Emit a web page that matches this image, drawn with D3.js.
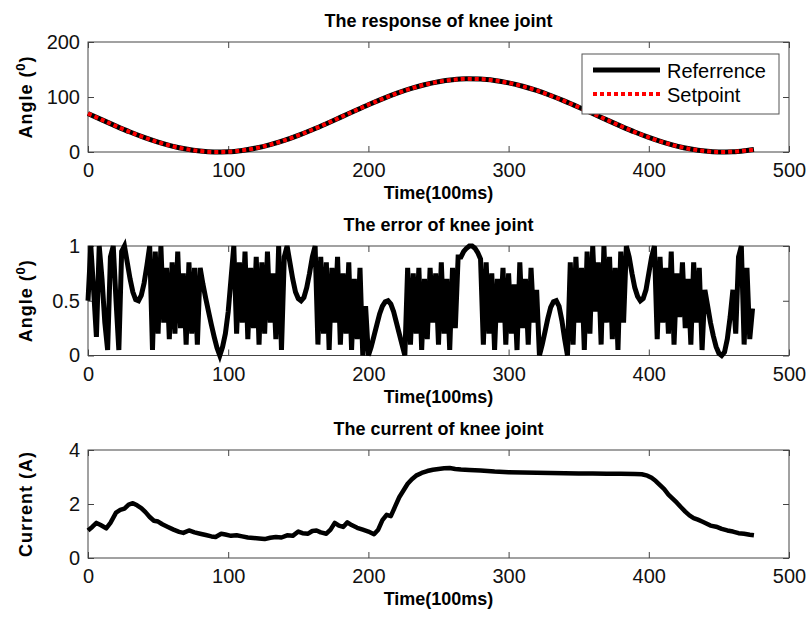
<!DOCTYPE html>
<html>
<head>
<meta charset="utf-8">
<script src="https://cdn.jsdelivr.net/npm/d3@7"></script>
<style>
  body { margin: 0; background: #fff; }
  svg { display: block; }
</style>
</head>
<body>
<div id="chart"></div>
<script>
// knee joint data

var timeTicks = [0, 100, 200, 300, 400, 500];
var angleTicks = [0, 100, 200];
var errorTicks = [0, 0.5, 1];
var currentTicks = [0, 2, 4];

// response: reference and setpoint (deg)
var refTime = [0, 10, 20, 30, 40, 50, 60, 70, 80, 90, 100, 110, 120, 130, 140, 150, 160, 170, 180, 190,
  200, 210, 220, 230, 240, 250, 260, 270, 280, 290, 300, 310, 320, 330, 340, 350, 360, 370, 380, 390,
  400, 410, 420, 430, 440, 450, 460, 470, 475];
var refAngle = [70, 58.4, 47.1, 36.3, 26.5, 17.9, 10.7, 5.3, 1.7, 0.1, 0.5, 2.9, 7.2, 13.4, 21.1, 30.3, 40.5, 51.5, 63, 74.6,
  86, 96.7, 106.5, 115.1, 122.3, 127.7, 131.3, 133, 132.6, 130.1, 125.7, 119.6, 111.9, 102.7, 92.5, 81.5, 70, 58.4, 47.1, 36.3,
  26.5, 17.9, 10.7, 5.3, 1.7, 0.1, 0.5, 2.9, 4.5];
var setAngle = [70, 58.4, 47.1, 36.3, 26.5, 17.9, 10.7, 5.3, 1.7, 0.1, 0.5, 2.9, 7.2, 13.4, 21.1, 30.3, 40.5, 51.5, 63, 74.6,
  86, 96.7, 106.5, 115.1, 122.3, 127.7, 131.3, 133, 132.6, 130.1, 125.7, 119.6, 111.9, 102.7, 92.5, 81.5, 70, 58.4, 47.1, 36.3,
  26.5, 17.9, 10.7, 5.3, 1.7, 0.1, 0.5, 2.9, 4.5];

// error, one sample every 2 time units starting at 0
var errStep = 2;
var errValue = [
  0.5, 1.0, 0.6, 0.17, 1.0, 0.7, 0.3, 0.05, 0.9, 1.0, 0.5, 0.05, 0.95,           // 0-24
  1.0, 0.85, 0.7, 0.58, 0.51, 0.5, 0.55, 0.66, 0.82, 1.0,                         // 26-44
  0.05, 0.95, 0.2, 1.0, 0.3, 0.8, 0.15, 0.85, 0.2, 0.95, 0.25, 0.75, 0.1, 0.85, 0.2, 0.8, 0.1, // 46-78
  0.8, 0.65, 0.52, 0.4, 0.28, 0.17, 0.07, 0.0, 0.08, 0.2, 0.4, 0.7, 1.0,          // 80-104
  0.2, 0.85, 0.3, 0.95, 0.15, 0.8, 0.25, 0.9, 0.1, 0.85, 0.2, 0.95, 0.3, 0.75, 0.15, 1.0, 0.05, 0.9, // 106-140
  1.0, 0.85, 0.7, 0.58, 0.52, 0.5, 0.53, 0.62, 0.75, 0.9, 1.0,                    // 142-162
  0.1, 0.9, 0.2, 0.85, 0.05, 0.8, 0.3, 0.9, 0.1, 0.75, 0.2, 0.85, 0.05, 0.7, 0.15, 0.8, 0.0, 0.45, 0.0, // 164-200
  0.08, 0.18, 0.28, 0.38, 0.45, 0.49, 0.5, 0.47, 0.4, 0.3, 0.2, 0.1, 0.0,        // 202-226
  0.8, 0.1, 0.75, 0.2, 0.8, 0.05, 0.7, 0.15, 0.8, 0.3, 0.75, 0.1, 0.85, 0.2, 0.7, 0.05, 0.8, 0.25, 0.9, // 228-264
  0.9, 0.95, 0.98, 1.0, 1.0, 0.98, 0.94, 0.88, 0.1,                               // 266-282
  0.85, 0.2, 0.75, 0.05, 0.7, 0.3, 0.8, 0.1, 0.75, 0.2, 0.65, 0.05, 0.85, 0.25, 0.7, 0.1, 0.8, 0.3, 0.6, 0.0, // 284-322
  0.1, 0.22, 0.34, 0.44, 0.49, 0.5, 0.45, 0.32, 0.15, 0.0,                        // 324-342
  0.85, 0.1, 0.9, 0.3, 0.8, 0.05, 0.95, 0.2, 1.0, 0.4, 0.85, 0.1, 1.0, 0.3, 0.9, 0.15, 0.8, 0.05, 0.95, 0.3, 1.0, // 344-384
  0.9, 0.75, 0.62, 0.54, 0.5, 0.52, 0.6, 0.75, 0.9, 1.0,                          // 386-404
  0.15, 0.9, 0.3, 0.8, 0.2, 0.95, 0.1, 0.75, 0.35, 0.85, 0.25, 0.7, 0.1, 0.85, 0.3, 0.8, 0.05, 0.6, // 406-440
  0.45, 0.3, 0.18, 0.08, 0.02, 0.0, 0.03, 0.15, 0.35, 0.6,                        // 442-460
  0.2, 0.9, 1.0, 0.1, 0.8, 0.15, 0.43                                             // 462-474
];

// current (A)
var curTime = [0, 3, 6, 9, 13, 16, 20, 23, 26, 29, 32, 35, 38, 41, 44, 47, 50, 53, 57, 61, 65, 68, 72, 76, 80, 84, 88, 91, 95, 98,
  102, 106, 110, 114, 118, 122, 126, 130, 134, 138, 142, 146, 150, 153, 157, 160, 163, 166, 170, 173, 176, 179, 182, 185, 188, 192, 196, 200,
  204, 207, 210, 213, 216, 219, 222, 225, 228, 231, 234, 238, 242, 246, 250, 254, 258, 262, 266, 272, 280, 290, 300, 310, 320, 330, 340,
  350, 360, 370, 380, 390, 395, 399, 402, 405, 408, 411, 414, 417, 420, 423, 426, 429, 432, 435, 438, 441, 444, 448, 452, 456, 460, 464, 468, 472, 475];
var curValue = [1.02, 1.15, 1.3, 1.22, 1.1, 1.3, 1.68, 1.78, 1.83, 1.98, 2.03, 1.95, 1.85, 1.7, 1.52, 1.38, 1.35, 1.25, 1.15, 1.05, 0.97, 0.93, 1.02, 0.95, 0.9, 0.85, 0.8, 0.78, 0.9, 0.87,
  0.82, 0.84, 0.8, 0.76, 0.74, 0.72, 0.7, 0.75, 0.78, 0.76, 0.84, 0.82, 0.98, 0.92, 0.9, 1.0, 1.02, 0.95, 0.9, 1.05, 1.3, 1.2, 1.15, 1.32, 1.22, 1.12, 1.05, 0.98,
  0.88, 1.05, 1.4, 1.6, 1.55, 1.9, 2.25, 2.5, 2.75, 2.92, 3.05, 3.15, 3.22, 3.27, 3.3, 3.32, 3.33, 3.3, 3.28, 3.26, 3.24, 3.2, 3.18, 3.17, 3.16, 3.15, 3.14,
  3.13, 3.13, 3.12, 3.12, 3.11, 3.1, 3.05, 2.97, 2.85, 2.7, 2.55, 2.35, 2.2, 2.05, 1.88, 1.72, 1.58, 1.48, 1.42, 1.35, 1.28, 1.2, 1.16, 1.08, 1.02, 0.98, 0.92, 0.9, 0.86, 0.84];

var width = 810, height = 619;
var left = 88, right = 789;
var narrow = "'Liberation Sans Narrow', 'Arial Narrow', 'Liberation Sans', sans-serif";
var plain = "'Liberation Sans', Arial, sans-serif";

var svg = d3.select("#chart").append("svg")
  .attr("width", width)
  .attr("height", height)
  .style("background", "#fff");

var xScale = d3.scaleLinear().domain([0, 500]).range([left, right]);

// one panel with MATLAB-like box axes
function panel(top, bottom, yMax, yTicks, title, ylabel) {
  var yScale = d3.scaleLinear().domain([0, yMax]).range([bottom, top]);
  var g = svg.append("g");

  var fmt = d3.format("~g");

  g.append("g")
    .attr("transform", "translate(0," + bottom + ")")
    .call(d3.axisBottom(xScale).tickValues(timeTicks).tickSize(-6).tickPadding(11).tickFormat(fmt));
  g.append("g")
    .attr("transform", "translate(0," + top + ")")
    .call(d3.axisTop(xScale).tickValues(timeTicks).tickSize(-6).tickFormat(""));
  g.append("g")
    .attr("transform", "translate(" + left + ",0)")
    .call(d3.axisLeft(yScale).tickValues(yTicks).tickSize(-6).tickPadding(8).tickFormat(fmt));
  g.append("g")
    .attr("transform", "translate(" + right + ",0)")
    .call(d3.axisRight(yScale).tickValues(yTicks).tickSize(-6).tickFormat(""));

  g.selectAll(".domain").remove();
  g.selectAll(".tick line").attr("stroke", "#444");
  g.selectAll(".tick text")
    .attr("fill", "#111")
    .style("font-family", plain)
    .style("font-size", "20px");

  g.append("rect")
    .attr("x", left).attr("y", top)
    .attr("width", right - left).attr("height", bottom - top)
    .attr("fill", "none")
    .attr("stroke", "#444");

  svg.append("text")
    .attr("x", (left + right) / 2).attr("y", top - 15)
    .attr("text-anchor", "middle")
    .style("font-family", narrow).style("font-weight", "bold").style("font-size", "18px")
    .text(title);

  svg.append("text")
    .attr("x", (left + right) / 2).attr("y", bottom + 47)
    .attr("text-anchor", "middle")
    .style("font-family", narrow).style("font-weight", "bold").style("font-size", "18px")
    .text("Time(100ms)");

  var yl = svg.append("text")
    .attr("transform", "translate(32," + (top + bottom) / 2 + ") rotate(-90)")
    .attr("text-anchor", "middle")
    .style("font-family", plain).style("font-weight", "bold").style("font-size", "18px")
    .style("letter-spacing", "1px");
  ylabel(yl);

  return yScale;
}

function angleLabel(t) {
  t.append("tspan").text("Angle (");
  t.append("tspan").attr("dy", -7).style("font-size", "13px").text("0");
  t.append("tspan").attr("dy", 7).text(")");
}

// panel 1: response
var y1 = panel(42, 152, 200, angleTicks, "The response of knee joint", angleLabel);

var line1 = d3.line()
  .x(function(d, i) { return xScale(refTime[i]); })
  .y(function(d) { return y1(d); })
  .curve(d3.curveMonotoneX);

svg.append("path").datum(refAngle)
  .attr("d", line1)
  .attr("fill", "none").attr("stroke", "#000").attr("stroke-width", 5);
svg.append("path").datum(setAngle)
  .attr("d", line1)
  .attr("fill", "none").attr("stroke", "#f00").attr("stroke-width", 4)
  .attr("stroke-dasharray", "4,3");

// legend
var lg = svg.append("g");
lg.append("rect")
  .attr("x", 582).attr("y", 54).attr("width", 197).attr("height", 60)
  .attr("fill", "#fff").attr("stroke", "#555");
lg.append("line").attr("x1", 593).attr("x2", 660).attr("y1", 70).attr("y2", 70)
  .attr("stroke", "#000").attr("stroke-width", 5);
lg.append("line").attr("x1", 593).attr("x2", 660).attr("y1", 94).attr("y2", 94)
  .attr("stroke", "#f00").attr("stroke-width", 4).attr("stroke-dasharray", "4,3");
lg.append("text").attr("x", 667).attr("y", 78)
  .style("font-family", plain).style("font-size", "20px").text("Referrence");
lg.append("text").attr("x", 667).attr("y", 102)
  .style("font-family", plain).style("font-size", "20px").text("Setpoint");

// panel 2: error
var y2 = panel(246, 355.5, 1, errorTicks, "The error of knee joint", angleLabel);

svg.append("path").datum(errValue)
  .attr("d", d3.line()
    .x(function(d, i) { return xScale(i * errStep); })
    .y(function(d) { return y2(d); }))
  .attr("fill", "none").attr("stroke", "#000").attr("stroke-width", 5)
  .attr("stroke-linejoin", "miter");

// panel 3: current
var y3 = panel(450, 558, 4, currentTicks, "The current of knee joint", function(t) { t.text("Current (A)"); });

svg.append("path").datum(curValue)
  .attr("d", d3.line()
    .x(function(d, i) { return xScale(curTime[i]); })
    .y(function(d) { return y3(d); }))
  .attr("fill", "none").attr("stroke", "#000").attr("stroke-width", 4.5)
  .attr("stroke-linejoin", "round");
</script>
</body>
</html>
